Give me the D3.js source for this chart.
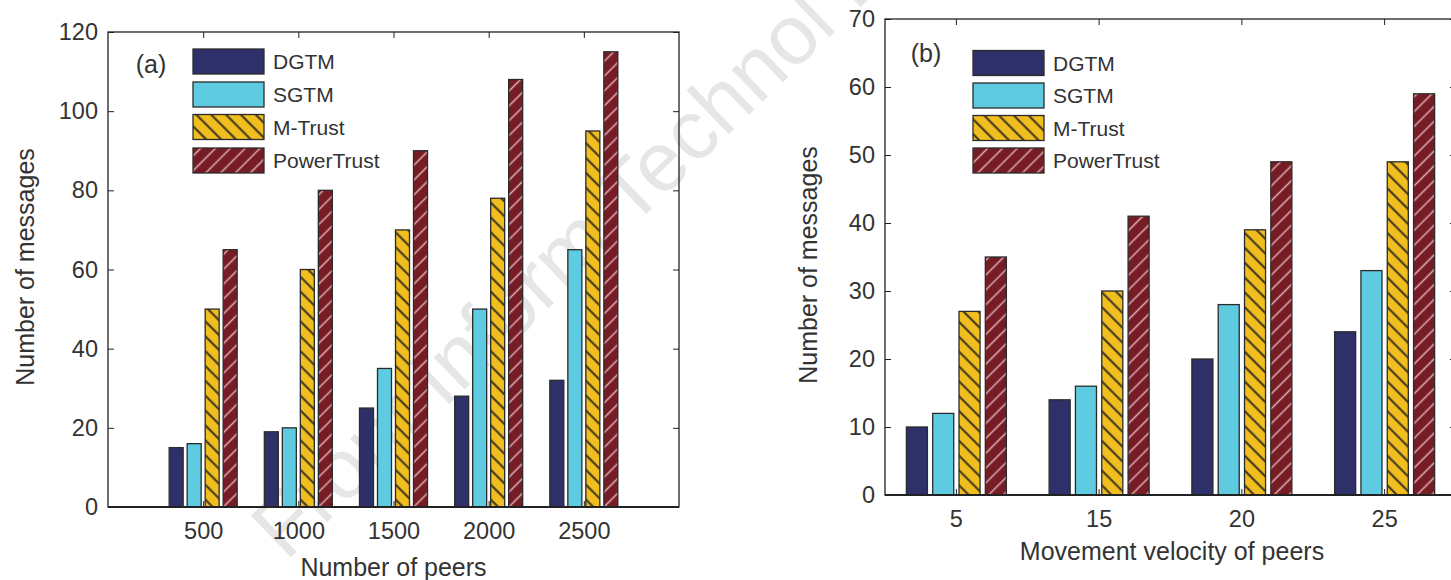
<!DOCTYPE html>
<html><head><meta charset="utf-8">
<script src="https://cdn.jsdelivr.net/npm/d3@7"></script>
<style>
body{margin:0;background:#fff}
svg{display:block}
text{font-family:"Liberation Sans",Arial,Helvetica,sans-serif;fill:#333}
</style>
</head><body>
<svg id="c" width="1451" height="580"></svg>
<script>
// ---------- data ----------
const seriesNames = ["DGTM", "SGTM", "M-Trust", "PowerTrust"];

const peersCategories = [500, 1000, 1500, 2000, 2500];
const peersDGTM       = [15, 19, 25, 28, 32];
const peersSGTM       = [16, 20, 35, 50, 65];
const peersMTrust     = [50, 60, 70, 78, 95];
const peersPowerTrust = [65, 80, 90, 108, 115];
const peersYTicks     = [0, 20, 40, 60, 80, 100, 120];

const velocityCategories = ["5", "15", "20", "25"];
const velDGTM       = [10, 14, 20, 24];
const velSGTM       = [12, 16, 28, 33];
const velMTrust     = [27, 30, 39, 49];
const velPowerTrust = [35, 41, 49, 59];
const velYTicks     = [0, 10, 20, 30, 40, 50, 60, 70];

const watermarkText = "Front Inform Technol E";

// ---------- styles ----------
const svg = d3.select("#c");
const defs = svg.append("defs");

function hatch(id, bg, lineColor, lineW, gap, angle, opacity) {
  const p = defs.append("pattern").attr("id", id)
    .attr("patternUnits", "userSpaceOnUse")
    .attr("width", 20).attr("height", gap)
    .attr("patternTransform", `rotate(${angle})`);
  p.append("rect").attr("width", 20).attr("height", gap).attr("fill", bg);
  p.append("line").attr("x1", 0).attr("x2", 20)
    .attr("y1", gap / 2).attr("y2", gap / 2)
    .attr("stroke", lineColor).attr("stroke-width", lineW)
    .attr("stroke-opacity", opacity);
}
hatch("hM", "#f0be1f", "#1a1a1a", 1.9, 10.5, 45, 0.9);
hatch("hP", "#761c25", "#f2c6cc", 1.5, 10.5, -45, 0.85);

const fills = ["#2e3169", "#5ecbe0", "url(#hM)", "url(#hP)"];

// ---------- watermark ----------
svg.append("text")
  .attr("transform", "translate(286,562) rotate(-44)")
  .attr("font-size", 84)
  .style("fill", "#e6e6e6")
  .text(watermarkText);

// ---------- generic panel ----------
function panel(cfg) {
  const g = svg.append("g");
  const { y, xCenters, inner, data } = cfg;

  // bars
  const groups = g.selectAll("g.grp").data(cfg.cats).join("g")
    .attr("transform", (d) => `translate(${xCenters(d)},0)`);
  groups.selectAll("rect").data((d, i) => seriesNames.map((s, k) => ({ s, k, v: data[k][i] })))
    .join("rect")
    .attr("x", (d) => inner(d.s))
    .attr("width", inner.bandwidth())
    .attr("y", (d) => y(d.v))
    .attr("height", (d) => y(0) - y(d.v))
    .attr("fill", (d) => fills[d.k])
    .attr("stroke", "#2b2b2b").attr("stroke-width", 1.3);

  const [x0, x1] = cfg.xRange;
  const [yb, yt] = y.range();

  // y axes (ticks inside)
  const ya = g.append("g").attr("transform", `translate(${x0},0)`)
    .call(d3.axisLeft(y).tickValues(cfg.yTicks).tickSize(-6).tickPadding(cfg.yPad));
  ya.select(".domain").remove();
  ya.selectAll("text").attr("font-size", cfg.tickFs).style("fill", "#333").attr("font-family", null);
  ya.selectAll("line").attr("stroke", "#222");
  const yr = g.append("g").attr("transform", `translate(${x1},0)`)
    .call(d3.axisRight(y).tickValues(cfg.yTicks).tickSize(-6).tickFormat(""));
  yr.select(".domain").remove();
  yr.selectAll("line").attr("stroke", "#222");

  // x axes
  const xa = g.append("g").attr("transform", `translate(0,${yb})`)
    .call(cfg.xAxisBottom.tickSize(-6).tickPadding(cfg.xPad));
  xa.select(".domain").remove();
  xa.selectAll("text").attr("font-size", cfg.tickFs).style("fill", "#333").attr("font-family", null);
  xa.selectAll("line").attr("stroke", "#222");
  const xt = g.append("g").attr("transform", `translate(0,${yt})`)
    .call(cfg.xAxisTop.tickSize(-6).tickFormat(""));
  xt.select(".domain").remove();
  xt.selectAll("line").attr("stroke", "#222");

  // frame
  g.append("rect").attr("x", x0).attr("y", yt).attr("width", x1 - x0).attr("height", yb - yt)
    .attr("fill", "none").attr("stroke", "#222").attr("stroke-width", 1.3);
  g.append("line").attr("x1", x0).attr("x2", x1).attr("y1", yb).attr("y2", yb)
    .attr("stroke", "#222").attr("stroke-width", 2);

  // titles
  g.append("text").attr("x", cfg.xTitle[0]).attr("y", cfg.xTitle[1])
    .attr("text-anchor", "middle").attr("font-size", cfg.titleFs).text(cfg.xLabel);
  g.append("text").attr("transform", `translate(${cfg.yTitle[0]},${cfg.yTitle[1]}) rotate(-90)`)
    .attr("text-anchor", "middle").attr("dominant-baseline", "central")
    .attr("font-size", cfg.titleFs).text(cfg.yLabel);

  // panel label
  g.append("text").attr("x", cfg.tag[0]).attr("y", cfg.tag[1])
    .attr("text-anchor", "middle").attr("dominant-baseline", "central")
    .attr("font-size", 25).text(cfg.tagText);

  // legend
  const lg = g.append("g");
  seriesNames.forEach((s, k) => {
    const cy = cfg.legend.ys[k];
    lg.append("rect").attr("x", cfg.legend.x).attr("y", cy - 12.5)
      .attr("width", 71).attr("height", 25)
      .attr("fill", fills[k]).attr("stroke", "#2b2b2b").attr("stroke-width", 1.3);
    lg.append("text").attr("x", cfg.legend.x + 80).attr("y", cy)
      .attr("dominant-baseline", "central").attr("font-size", 21).text(s);
  });
}

// ---------- panel (a) ----------
{
  const xRange = [108, 679];
  const x = d3.scaleLinear().domain([0, 3000]).range(xRange);
  const y = d3.scaleLinear().domain([0, 120]).range([507, 32]);
  const inner = d3.scaleBand().domain(seriesNames).range([-34, 34]).paddingInner(4 / 18);
  panel({
    cats: peersCategories, xCenters: x, y, inner, xRange,
    data: [peersDGTM, peersSGTM, peersMTrust, peersPowerTrust],
    yTicks: peersYTicks,
    xAxisBottom: d3.axisBottom(x).tickValues(peersCategories).tickFormat(d3.format("d")),
    xAxisTop: d3.axisTop(x).tickValues(peersCategories),
    yPad: 10, xPad: 15, tickFs: 23.5, titleFs: 25,
    xLabel: "Number of peers", xTitle: [393.5, 576],
    yLabel: "Number of messages", yTitle: [25, 267],
    tag: [151, 64], tagText: "(a)",
    legend: { x: 193, ys: [61.5, 94.5, 127, 160.5] }
  });
}

// ---------- panel (b) ----------
{
  const xRange = [885, 1456];
  const x = d3.scaleBand().domain(velocityCategories).range(xRange).padding(0);
  const y = d3.scaleLinear().domain([0, 70]).range([495, 19]);
  const inner = d3.scaleBand().domain(seriesNames).range([-50, 50]).paddingInner(0.2);
  const centers = (d) => x(d) + x.bandwidth() / 2;
  panel({
    cats: velocityCategories, xCenters: centers, y, inner, xRange,
    data: [velDGTM, velSGTM, velMTrust, velPowerTrust],
    yTicks: velYTicks,
    xAxisBottom: d3.axisBottom(x).tickValues(velocityCategories),
    xAxisTop: d3.axisTop(x).tickValues(velocityCategories),
    yPad: 10, xPad: 15, tickFs: 23.5, titleFs: 25,
    xLabel: "Movement velocity of peers", xTitle: [1172, 560],
    yLabel: "Number of messages", yTitle: [808, 265],
    tag: [926, 53], tagText: "(b)",
    legend: { x: 973, ys: [63, 95.5, 128, 160.5] }
  });
}
</script>
</body></html>
